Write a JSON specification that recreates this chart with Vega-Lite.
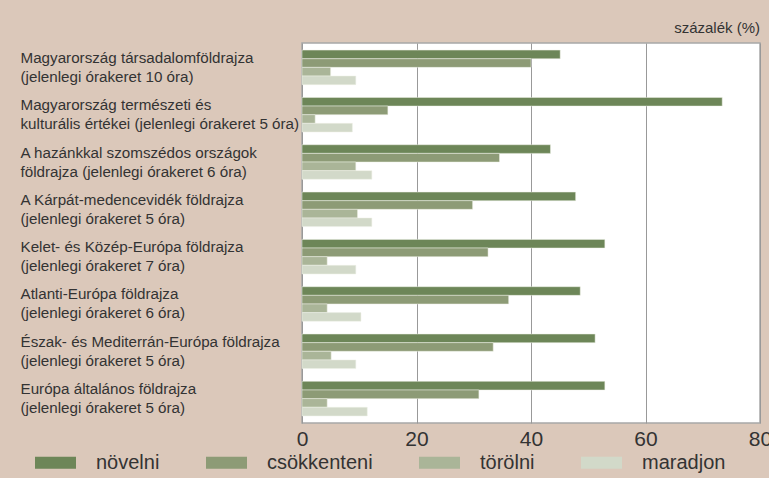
{
  "$schema": "https://vega.github.io/schema/vega-lite/v6.json",
  "autosize": {"type": "none"},
  "width": 458,
  "height": 380,
  "padding": {"left": 302, "top": 43, "right": 9, "bottom": 55},
  "background": "#dbc8ba",
  "title": {"text": "százalék (%)", "anchor": "end", "frame": "group", "orient": "top", "offset": 7, "fontSize": 15, "fontWeight": "normal", "color": "#333", "font": "Liberation Sans"},
  "config": {
    "view": {"fill": "white", "stroke": "#a8a8a8", "strokeWidth": 1.5},
    "font": "Liberation Sans"
  },
  "data": {"values": [
    {"tema": "Magyarország társadalomföldrajza|(jelenlegi órakeret 10 óra)", "valasz": "növelni", "ertek": 45.1},
    {"tema": "Magyarország társadalomföldrajza|(jelenlegi órakeret 10 óra)", "valasz": "csökkenteni", "ertek": 40.0},
    {"tema": "Magyarország társadalomföldrajza|(jelenlegi órakeret 10 óra)", "valasz": "törölni", "ertek": 5.0},
    {"tema": "Magyarország társadalomföldrajza|(jelenlegi órakeret 10 óra)", "valasz": "maradjon", "ertek": 9.4},
    {"tema": "Magyarország természeti és|kulturális értékei (jelenlegi órakeret 5 óra)", "valasz": "növelni", "ertek": 73.4},
    {"tema": "Magyarország természeti és|kulturális értékei (jelenlegi órakeret 5 óra)", "valasz": "csökkenteni", "ertek": 15.0},
    {"tema": "Magyarország természeti és|kulturális értékei (jelenlegi órakeret 5 óra)", "valasz": "törölni", "ertek": 2.3},
    {"tema": "Magyarország természeti és|kulturális értékei (jelenlegi órakeret 5 óra)", "valasz": "maradjon", "ertek": 8.8},
    {"tema": "A hazánkkal szomszédos országok|földrajza (jelenlegi órakeret 6 óra)", "valasz": "növelni", "ertek": 43.4},
    {"tema": "A hazánkkal szomszédos országok|földrajza (jelenlegi órakeret 6 óra)", "valasz": "csökkenteni", "ertek": 34.5},
    {"tema": "A hazánkkal szomszédos országok|földrajza (jelenlegi órakeret 6 óra)", "valasz": "törölni", "ertek": 9.4},
    {"tema": "A hazánkkal szomszédos országok|földrajza (jelenlegi órakeret 6 óra)", "valasz": "maradjon", "ertek": 12.2},
    {"tema": "A Kárpát-medencevidék földrajza|(jelenlegi órakeret 5 óra)", "valasz": "növelni", "ertek": 47.8},
    {"tema": "A Kárpát-medencevidék földrajza|(jelenlegi órakeret 5 óra)", "valasz": "csökkenteni", "ertek": 29.8},
    {"tema": "A Kárpát-medencevidék földrajza|(jelenlegi órakeret 5 óra)", "valasz": "törölni", "ertek": 9.7},
    {"tema": "A Kárpát-medencevidék földrajza|(jelenlegi órakeret 5 óra)", "valasz": "maradjon", "ertek": 12.2},
    {"tema": "Kelet- és Közép-Európa földrajza|(jelenlegi órakeret 7 óra)", "valasz": "növelni", "ertek": 52.9},
    {"tema": "Kelet- és Közép-Európa földrajza|(jelenlegi órakeret 7 óra)", "valasz": "csökkenteni", "ertek": 32.5},
    {"tema": "Kelet- és Közép-Európa földrajza|(jelenlegi órakeret 7 óra)", "valasz": "törölni", "ertek": 4.4},
    {"tema": "Kelet- és Közép-Európa földrajza|(jelenlegi órakeret 7 óra)", "valasz": "maradjon", "ertek": 9.4},
    {"tema": "Atlanti-Európa földrajza|(jelenlegi órakeret 6 óra)", "valasz": "növelni", "ertek": 48.6},
    {"tema": "Atlanti-Európa földrajza|(jelenlegi órakeret 6 óra)", "valasz": "csökkenteni", "ertek": 36.1},
    {"tema": "Atlanti-Európa földrajza|(jelenlegi órakeret 6 óra)", "valasz": "törölni", "ertek": 4.4},
    {"tema": "Atlanti-Európa földrajza|(jelenlegi órakeret 6 óra)", "valasz": "maradjon", "ertek": 10.3},
    {"tema": "Észak- és Mediterrán-Európa földrajza|(jelenlegi órakeret 5 óra)", "valasz": "növelni", "ertek": 51.2},
    {"tema": "Észak- és Mediterrán-Európa földrajza|(jelenlegi órakeret 5 óra)", "valasz": "csökkenteni", "ertek": 33.4},
    {"tema": "Észak- és Mediterrán-Európa földrajza|(jelenlegi órakeret 5 óra)", "valasz": "törölni", "ertek": 5.1},
    {"tema": "Észak- és Mediterrán-Európa földrajza|(jelenlegi órakeret 5 óra)", "valasz": "maradjon", "ertek": 9.4},
    {"tema": "Európa általános földrajza|(jelenlegi órakeret 5 óra)", "valasz": "növelni", "ertek": 52.9},
    {"tema": "Európa általános földrajza|(jelenlegi órakeret 5 óra)", "valasz": "csökkenteni", "ertek": 30.9},
    {"tema": "Európa általános földrajza|(jelenlegi órakeret 5 óra)", "valasz": "törölni", "ertek": 4.4},
    {"tema": "Európa általános földrajza|(jelenlegi órakeret 5 óra)", "valasz": "maradjon", "ertek": 11.4}
  ]},
  "mark": {"type": "bar", "stroke": "#eef0e6", "strokeWidth": 0.5},
  "encoding": {
    "y": {
      "field": "tema", "type": "nominal", "sort": null,
      "scale": {"paddingInner": 0.27, "paddingOuter": 0.15},
      "axis": {
        "title": null, "ticks": false, "tickSize": 0, "domain": false, "grid": false,
        "labelAlign": "left", "labelPadding": 282, "labelLimit": 320, "labelOffset": -9.5,
        "labelExpr": "split(datum.label, '|')",
        "labelFontSize": 15.2, "labelLineHeight": 19, "labelColor": "#333",
        "labelFont": "Liberation Sans"
      }
    },
    "yOffset": {
      "field": "valasz", "type": "nominal",
      "scale": {"domain": ["növelni", "csökkenteni", "törölni", "maradjon"], "paddingInner": 0, "paddingOuter": 0}
    },
    "x": {
      "field": "ertek", "type": "quantitative",
      "scale": {"domain": [0, 80], "nice": false},
      "axis": {
        "title": null, "values": [0, 20, 40, 60, 80], "ticks": false, "domain": false,
        "grid": true, "gridColor": "#999", "gridWidth": 1,
        "labelFlush": false, "labelFontSize": 21, "labelPadding": 5, "labelColor": "#333",
        "labelFont": "Liberation Sans"
      }
    },
    "color": {
      "field": "valasz", "type": "nominal",
      "scale": {"domain": ["növelni", "csökkenteni", "törölni", "maradjon"], "range": ["#6d8658", "#8d9b76", "#aab598", "#d2d9c9"]},
      "legend": {
        "title": null, "orient": "none", "legendX": -267, "legendY": 399,
        "direction": "horizontal", "columns": 4, "columnPadding": 46,
        "symbolType": "M-1,-0.29H1V0.29H-1Z", "symbolSize": 1681, "symbolStrokeWidth": 0,
        "symbolOpacity": 1,
        "labelFontSize": 20, "labelColor": "#333", "labelOffset": 20, "labelFont": "Liberation Sans",
        "padding": 0
      }
    }
  }
}
